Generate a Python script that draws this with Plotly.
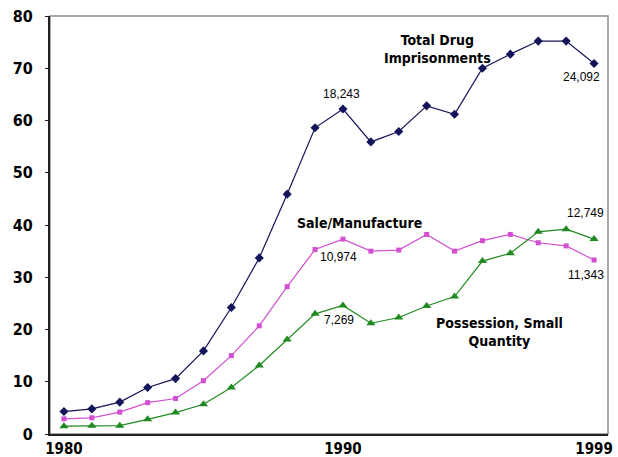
import plotly.graph_objects as go

years = list(range(1980, 2000))
total = [4.3, 4.8, 6.1, 8.9, 10.6, 15.9, 24.2, 33.7, 45.9, 58.6,
         62.2, 55.9, 57.9, 62.8, 61.2, 70.0, 72.7, 75.2, 75.2, 70.9]
sale = [2.9, 3.1, 4.2, 6.0, 6.8, 10.2, 15.0, 20.7, 28.2, 35.3,
        37.3, 35.0, 35.2, 38.2, 35.0, 37.0, 38.2, 36.6, 36.0, 33.3]
possession = [1.5, 1.6, 1.6, 2.8, 4.1, 5.7, 8.9, 13.1, 18.1, 23.0,
              24.6, 21.2, 22.3, 24.5, 26.3, 33.1, 34.6, 38.7, 39.2, 37.3]
x_ticks = [1980, 1990, 1999]
y_ticks = [0, 10, 20, 30, 40, 50, 60, 70, 80]

NAVY = "#14145a"
PINK = "#d24fd2"
GREEN = "#1f8a1f"
BOLD = "Liberation Sans Narrow, DejaVu Sans Condensed, Arial Narrow, sans-serif"
REG = "Liberation Sans, Arial, sans-serif"

fig = go.Figure()
fig.add_trace(go.Scatter(x=years, y=total, mode="lines+markers",
                         line=dict(color=NAVY, width=1.2),
                         marker=dict(symbol="diamond", size=7, color=NAVY)))
fig.add_trace(go.Scatter(x=years, y=sale, mode="lines+markers",
                         line=dict(color=PINK, width=1.2),
                         marker=dict(symbol="square", size=5, color=PINK)))
fig.add_trace(go.Scatter(x=years, y=possession, mode="lines+markers",
                         line=dict(color=GREEN, width=1.2),
                         marker=dict(symbol="triangle-up", size=8, color=GREEN)))

def ann(x, y, text, size=12, bold=False, xanchor="center", yanchor="middle", align="center"):
    fig.add_annotation(x=x, y=y, xref="x", yref="y", text=text, showarrow=False,
                       xanchor=xanchor, yanchor=yanchor, align=align,
                       font=dict(family=BOLD if bold else REG, size=size,
                                 color="black"))

# data labels
ann(1979.1, 11.9, "1,076", xanchor="left")
ann(1979.1, 8.9, "697", xanchor="left")
ann(1979.1, 5.7, "379", xanchor="left")
ann(1989.95, 65.0, "18,243")
ann(1989.85, 33.9, "10,974")
ann(1989.85, 21.8, "7,269")
ann(1998.55, 68.3, "24,092")
ann(1998.7, 42.3, "12,749")
ann(1998.7, 30.4, "11,343")

# series labels
ann(1993.4, 73.6, "<b>Total Drug<br>Imprisonments</b>", size=14, bold=True)
ann(1990.6, 40.3, "<b>Sale/Manufacture</b>", size=14, bold=True)
ann(1995.6, 19.6, "<b>Possession, Small<br>Quantity</b>", size=14, bold=True)

# frame (top/right gray)
fig.add_shape(type="rect", xref="paper", yref="paper", x0=0, y0=0, x1=1, y1=1,
              line=dict(color="#8c8c8c", width=1.5), layer="below")

fig.update_layout(
    width=618, height=457,
    margin=dict(l=50, r=10, t=16, b=23),
    plot_bgcolor="white", paper_bgcolor="white",
    showlegend=False,
)
fig.update_xaxes(range=[1979.5, 1999.5], tickvals=x_ticks,
                 ticktext=[f"<b>{v}</b>" for v in x_ticks],
                 showgrid=False, zeroline=False, showline=True, automargin=False,
                 linecolor="#222222", linewidth=2, ticks="", ticklen=0,
                 ticklabelstandoff=0,
                 tickfont=dict(family=BOLD, size=15, color="black"))
fig.update_yaxes(range=[0, 80], tickvals=y_ticks,
                 ticktext=[f"<b>{v}</b>" for v in y_ticks],
                 showgrid=False, zeroline=False, showline=True, automargin=False,
                 linecolor="#222222", linewidth=2, ticks="outside",
                 ticklen=3, tickcolor="#222222", ticklabelstandoff=9,
                 tickfont=dict(family=BOLD, size=16, color="black"))

fig.write_html("out.html", config={"displayModeBar": False},
               post_script="document.body.style.margin='0';document.body.style.overflow='hidden';")
